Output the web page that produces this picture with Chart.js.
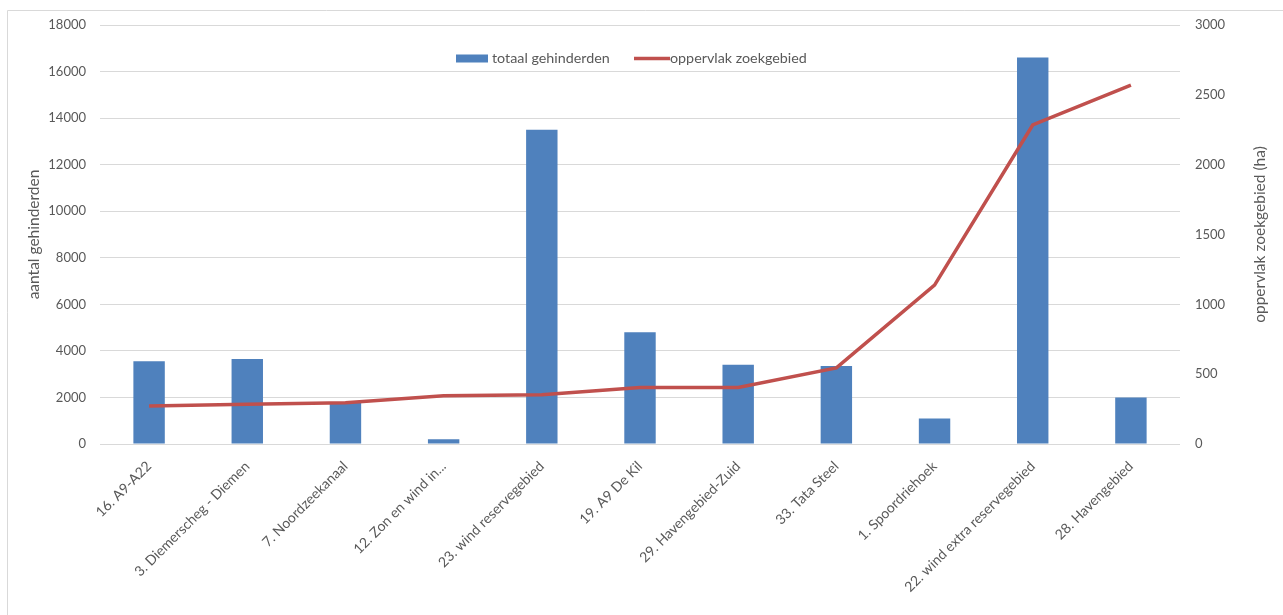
<!DOCTYPE html>
<html>
<head>
<meta charset="utf-8">
<script src="https://cdn.jsdelivr.net/npm/chart.js@4"></script>
<style>
  html, body { margin: 0; padding: 0; background: #fff; }
  #wrap { width: 1283px; height: 615px; }
</style>
</head>
<body>
<div id="wrap"><canvas id="combiChart" width="1283" height="615"></canvas></div>
<script>
const categories = ["16. A9-A22", "3. Diemerscheg - Diemen", "7. Noordzeekanaal", "12. Zon en wind in...",
  "23. wind reservegebied", "19. A9 De Kil", "29. Havengebied-Zuid", "33. Tata Steel",
  "1. Spoordriehoek", "22. wind extra reservegebied", "28. Havengebied"];
const gehinderden = [3550, 3650, 1800, 200, 13500, 4800, 3400, 3350, 1100, 16600, 2000];
const oppervlak = [272, 284, 296, 346, 352, 404, 404, 545, 1138, 2284, 2570];
const leftTicks = [0, 18000, 2000];
const rightTicks = [0, 3000, 500];

const textGrey = "#595959";
const gridGrey = "#d9d9d9";
const family = "Lato, 'Open Sans', sans-serif";
const tickFont = { family: family, size: 13 };
const labelFont = { family: family, size: 14 };

// border, legend and axis titles drawn by hand (Excel look)
const extras = {
  id: "extras",
  beforeDraw(chart) {
    const c = chart.ctx;
    c.save();
    c.strokeStyle = gridGrey;
    c.lineWidth = 1;
    c.beginPath();
    c.moveTo(7.5, 615);
    c.lineTo(7.5, 10.5);
    c.lineTo(1283, 10.5);
    c.stroke();
    c.restore();
  },
  afterDraw(chart) {
    const c = chart.ctx;
    const area = chart.chartArea;
    const midY = (area.top + area.bottom) / 2;
    const titles = [[34, "aantal gehinderden"], [1260, "oppervlak zoekgebied (ha)"]];
    titles.forEach(t => {
      c.save();
      c.font = "15.5px " + family;
      c.fillStyle = textGrey;
      c.textBaseline = "middle";
      c.textAlign = "center";
      c.translate(t[0], midY);
      c.rotate(-Math.PI / 2);
      c.fillText(t[1], 0, 0);
      c.restore();
    });

    // legend
    const ds = chart.data.datasets;
    c.save();
    c.font = "14.3px " + family;
    c.textBaseline = "middle";
    c.textAlign = "left";
    const ly = 58.5;
    c.fillStyle = ds[0].backgroundColor;
    c.fillRect(456, ly - 4, 32, 8);
    c.fillStyle = textGrey;
    c.fillText(ds[0].label, 492, ly);
    c.strokeStyle = ds[1].borderColor;
    c.lineWidth = 3.5;
    c.beginPath();
    c.moveTo(634, ly);
    c.lineTo(670, ly);
    c.stroke();
    c.fillText(ds[1].label, 670, ly);
    c.restore();
  }
};

new Chart(document.getElementById("combiChart"), {
  data: {
    labels: categories,
    datasets: [{
      type: "bar",
      label: "totaal gehinderden",
      data: gehinderden,
      backgroundColor: "#4F81BD",
      yAxisID: "y",
      categoryPercentage: 0.32,
      barPercentage: 1,
      order: 1
    }, {
      type: "line",
      label: "oppervlak zoekgebied",
      data: oppervlak,
      borderColor: "#C0504D",
      borderWidth: 3.5,
      pointRadius: 0,
      tension: 0,
      yAxisID: "y1",
      order: 0
    }]
  },
  options: {
    responsive: false,
    animation: false,
    layout: { padding: { top: 25 } },
    plugins: { legend: { display: false }, tooltip: { enabled: false } },
    scales: {
      x: {
        grid: { display: false },
        border: { display: false },
        ticks: { color: textGrey, font: labelFont, minRotation: 45, maxRotation: 45, autoSkip: false, padding: 6 },
        afterFit(s) { s.height = 171; }
      },
      y: {
        position: "left",
        min: leftTicks[0], max: leftTicks[1],
        ticks: { stepSize: leftTicks[2], color: textGrey, font: tickFont, padding: 14, callback: v => String(v) },
        grid: { color: gridGrey, drawTicks: false },
        border: { display: false },
        afterFit(s) { s.width = 100; }
      },
      y1: {
        position: "right",
        min: rightTicks[0], max: rightTicks[1],
        ticks: { stepSize: rightTicks[2], color: textGrey, font: tickFont, padding: 15, callback: v => String(v) },
        grid: { drawOnChartArea: false, drawTicks: false },
        border: { display: false },
        afterFit(s) { s.width = 103; }
      }
    }
  },
  plugins: [extras]
});
</script>
</body>
</html>
